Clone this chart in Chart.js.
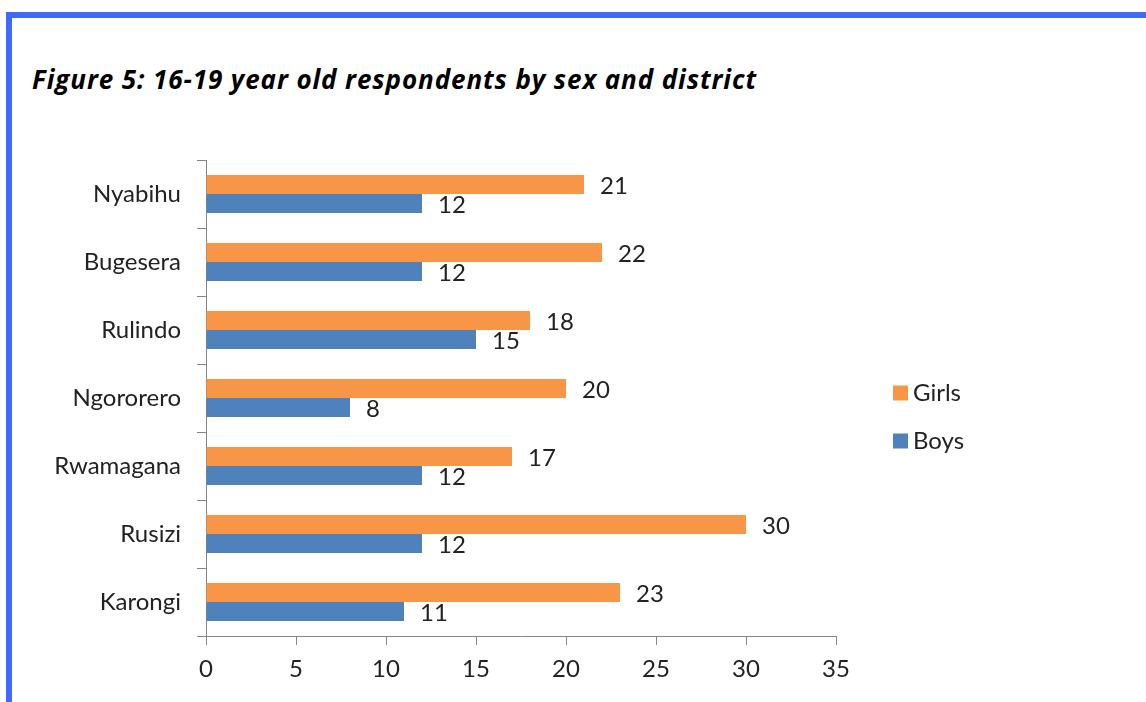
<!DOCTYPE html>
<html>
<head>
<meta charset="utf-8">
<script src="https://cdn.jsdelivr.net/npm/chart.js@4.4.1/dist/chart.umd.min.js"></script>
<style>
  html, body { margin: 0; padding: 0; background: #fff; }
  #wrap { position: relative; width: 1146px; height: 702px; overflow: hidden; background: #fff; }
  .frame-top { position: absolute; left: 6px; top: 12px; right: 0; height: 6px; background: #4169ff; }
  .frame-left { position: absolute; left: 6px; top: 12px; width: 6px; bottom: 0; background: #4169ff; }
  #title { position: absolute; left: 32px; top: 61px; font: italic bold 26px "Open Sans", sans-serif; letter-spacing: 0.9px; color: #000; white-space: nowrap; }
  #chart { position: absolute; left: 0; top: 0; }
</style>
</head>
<body>
<div id="wrap">
  <div class="frame-top"></div>
  <div class="frame-left"></div>
  <div id="title">Figure 5: 16-19 year old respondents by sex and district</div>
  <canvas id="chart" width="1146" height="702"></canvas>
</div>
<script>
// Respondents aged 16-19, by district
const districts = ['Nyabihu', 'Bugesera', 'Rulindo', 'Ngororero', 'Rwamagana', 'Rusizi', 'Karongi'];
const girls = [21, 22, 18, 20, 17, 30, 23];
const boys = [12, 12, 15, 8, 12, 12, 11];
const seriesNames = ['Girls', 'Boys'];
const xMin = 0;
const xMax = 35;
const xStep = 5;

const ORANGE = '#f79646';
const BLUE = '#4f81bd';
const AXIS = '#868686';
const TEXT = '#222222';
const FONT = 'Lato, sans-serif';
const SIZE = 24;

// Value printed just past the end of each bar
const valueLabels = {
  id: 'valueLabels',
  afterDatasetsDraw(chart) {
    const ctx = chart.ctx;
    ctx.save();
    ctx.font = SIZE + 'px ' + FONT;
    ctx.fillStyle = TEXT;
    ctx.textAlign = 'left';
    ctx.textBaseline = 'middle';
    chart.data.datasets.forEach((ds, i) => {
      chart.getDatasetMeta(i).data.forEach((bar, j) => {
        ctx.fillText(String(ds.data[j]), bar.x + 16, bar.y + 2);
      });
    });
    ctx.restore();
  }
};

// Legend at the right of the plot
const sideLegend = {
  id: 'sideLegend',
  afterDraw(chart) {
    const ctx = chart.ctx;
    const x = 893, y0 = 393, gap = 48, box = 15;
    ctx.save();
    ctx.font = SIZE + 'px ' + FONT;
    ctx.textAlign = 'left';
    ctx.textBaseline = 'middle';
    chart.data.datasets.forEach((ds, i) => {
      const y = y0 + i * gap;
      ctx.fillStyle = ds.backgroundColor;
      ctx.fillRect(x, y - box / 2, box, box);
      ctx.fillStyle = TEXT;
      ctx.fillText(ds.label, x + box + 5, y);
    });
    ctx.restore();
  }
};

new Chart(document.getElementById('chart'), {
  type: 'bar',
  data: {
    labels: districts,
    datasets: [
      { label: seriesNames[0], data: girls, backgroundColor: ORANGE, categoryPercentage: 0.56, barPercentage: 1 },
      { label: seriesNames[1], data: boys, backgroundColor: BLUE, categoryPercentage: 0.56, barPercentage: 1 }
    ]
  },
  options: {
    indexAxis: 'y',
    responsive: false,
    animation: false,
    events: [],
    layout: { padding: { top: 160, right: 310, bottom: 0, left: 0 } },
    plugins: {
      legend: { display: false },
      title: { display: false },
      tooltip: { enabled: false }
    },
    scales: {
      x: {
        min: xMin,
        max: xMax,
        afterFit(s) { s.height = 66; },
        border: { color: AXIS, width: 1 },
        grid: { drawOnChartArea: false, drawTicks: true, tickLength: 9, color: AXIS },
        ticks: { stepSize: xStep, color: TEXT, font: { family: FONT, size: SIZE }, padding: 10 }
      },
      y: {
        afterFit(s) { s.width = 206; },
        border: { color: AXIS, width: 1 },
        grid: { offset: true, drawOnChartArea: false, drawTicks: true, tickLength: 9, color: AXIS },
        ticks: { color: TEXT, font: { family: FONT, size: SIZE }, padding: 16 }
      }
    }
  },
  plugins: [valueLabels, sideLegend]
});
</script>
</body>
</html>
